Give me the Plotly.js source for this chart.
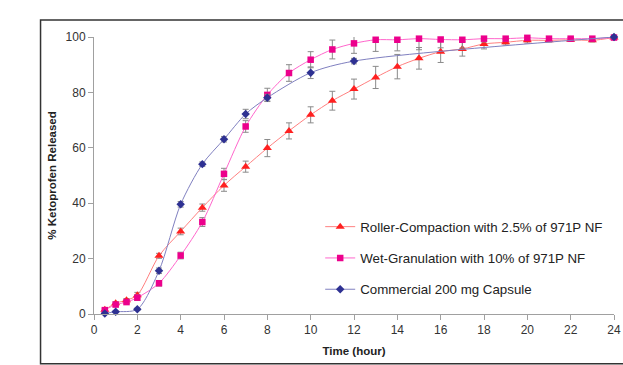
<!DOCTYPE html>
<html>
<head>
<meta charset="utf-8">
<script src="https://cdn.plot.ly/plotly-3.0.1.min.js"></script>
<style>html,body{margin:0;padding:0;background:#fff;}#chart{width:623px;height:365px;}</style>
</head>
<body>
<div id="chart"></div>
<script>
// Time points (hours)
const timeRC = [0.5, 1, 1.5, 2, 3, 4, 5, 6, 7, 8, 9, 10, 11, 12, 13, 14, 15, 16, 17, 18, 19, 20, 21, 22, 23, 24];
const timeWG = [0.5, 1, 1.5, 2, 3, 4, 5, 6, 7, 8, 9, 10, 11, 12, 13, 14, 15, 16, 17, 18, 19, 20, 21, 22, 23, 24];
const timeCC = [0.5, 1, 2, 3, 4, 5, 6, 7, 8, 10, 12, 24];

// % Ketoprofen released
const rollerCompaction = [1.5, 3.9, 5.0, 6.8, 21.0, 29.8, 38.4, 46.4, 53.2, 59.9, 66.1, 71.9, 77.0, 81.2, 85.4, 89.3, 92.3, 94.7, 95.7, 97.5, 98.1, 98.8, 98.8, 99.0, 98.8, 99.8];
const rollerErr =        [0.4, 0.5, 0.6, 1.0, 0.9, 1.2, 1.3, 2.1, 2.0, 3.1, 2.9, 2.9, 3.4, 3.6, 4.0, 4.4, 3.9, 3.9, 2.6, 1.8, 1.0, 1.0, 0.6, 0.6, 0.6, 0.5];

const wetGranulation = [1.4, 3.4, 4.3, 5.9, 11.1, 21.1, 33.2, 50.6, 67.7, 79.1, 87.0, 91.8, 95.5, 97.7, 99.0, 99.0, 99.4, 99.1, 99.0, 99.4, 99.4, 99.7, 99.4, 99.4, 99.4, 99.8];
const wetErr =         [0.4, 0.5, 0.5, 1.0, 1.0, 1.2, 1.6, 2.0, 2.1, 2.4, 3.0, 2.9, 3.4, 3.6, 4.2, 4.0, 4.0, 3.0, 3.0, 1.2, 1.0, 0.6, 0.5, 0.5, 0.5, 0.5];

const commercial = [0.2, 0.8, 1.7, 15.6, 39.6, 54.1, 63.1, 72.2, 78.1, 87.1, 91.3, 100.0];
const commErr =    [0.3, 0.3, 0.4, 1.0, 1.0, 0.8, 1.0, 1.7, 1.2, 2.1, 1.0, 0.5];

const seriesNames = ["Roller-Compaction with 2.5% of 971P NF", "Wet-Granulation with 10% of 971P NF", "Commercial 200 mg Capsule"];
const xTicks = [0, 2, 4, 6, 8, 10, 12, 14, 16, 18, 20, 22, 24];
const yTicks = [0, 20, 40, 60, 80, 100];

const errStyle = (arr) => ({type: 'data', array: arr, visible: true, color: '#8a8a8a', thickness: 1, width: 3});

const traces = [
  {
    x: timeRC, y: rollerCompaction, name: seriesNames[0], type: 'scatter', mode: 'lines+markers',
    legendgroup: 'a',
    line: {color: '#ff8080', width: 1, shape: 'spline', smoothing: 0.8},
    marker: {symbol: 'triangle-up', size: 8, color: '#ff2020'},
    error_y: errStyle(rollerErr), cliponaxis: false
  },
  {
    x: timeWG, y: wetGranulation, name: seriesNames[1], type: 'scatter', mode: 'lines+markers',
    legendgroup: 'b',
    line: {color: '#ff66cc', width: 1, shape: 'spline', smoothing: 0.8},
    marker: {symbol: 'square', size: 6.5, color: '#ec008c'},
    error_y: errStyle(wetErr), cliponaxis: false
  },
  {
    x: timeCC, y: commercial, name: seriesNames[2], type: 'scatter', mode: 'lines+markers',
    legendgroup: 'c',
    line: {color: '#8080c0', width: 1, shape: 'spline', smoothing: 0.8},
    marker: {symbol: 'diamond', size: 6.5, color: '#2e3192'},
    error_y: errStyle(commErr), cliponaxis: false
  }
];

const layout = {
  width: 623, height: 365,
  margin: {l: 93.5, r: 9, t: 37, b: 51, pad: 0},
  paper_bgcolor: '#ffffff', plot_bgcolor: '#ffffff',
  font: {family: 'Liberation Sans, Arial, sans-serif', size: 12, color: '#333333'},
  showlegend: true,
  legend: {
    x: 0.435, y: 0.37, xanchor: 'left', yanchor: 'top',
    bgcolor: 'rgba(0,0,0,0)', font: {size: 13.3, color: '#222222'},
    tracegroupgap: 11, itemwidth: 30
  },
  xaxis: {
    range: [0, 24], tickvals: xTicks, ticktext: xTicks.map(String),
    showline: true, linecolor: '#a0a0a0', linewidth: 1,
    ticks: 'outside', ticklen: 5, tickcolor: '#a0a0a0',
    showgrid: false, zeroline: false,
    tickfont: {size: 12, color: '#333'},
    title: {text: '<b>Time (hour)</b>', font: {size: 11.5, color: '#222'}, standoff: 10}
  },
  yaxis: {
    range: [0, 100], tickvals: yTicks, ticktext: yTicks.map(String),
    showline: true, linecolor: '#a0a0a0', linewidth: 1,
    ticks: 'outside', ticklen: 5, tickcolor: '#a0a0a0',
    showgrid: false, zeroline: false,
    tickfont: {size: 12, color: '#333'},
    title: {text: '<b>% Ketoprofen Released</b>', font: {size: 11.5, color: '#222'}, standoff: 6}
  },
  shapes: [{
    type: 'rect', xref: 'paper', yref: 'paper',
    x0: -0.1028, x1: 1.06, y0: -0.18, y1: 1.061,
    line: {color: '#333333', width: 1.5}, fillcolor: 'rgba(0,0,0,0)', layer: 'below'
  }]
};

Plotly.newPlot('chart', traces, layout, {displayModeBar: false, staticPlot: true});
</script>
</body>
</html>
